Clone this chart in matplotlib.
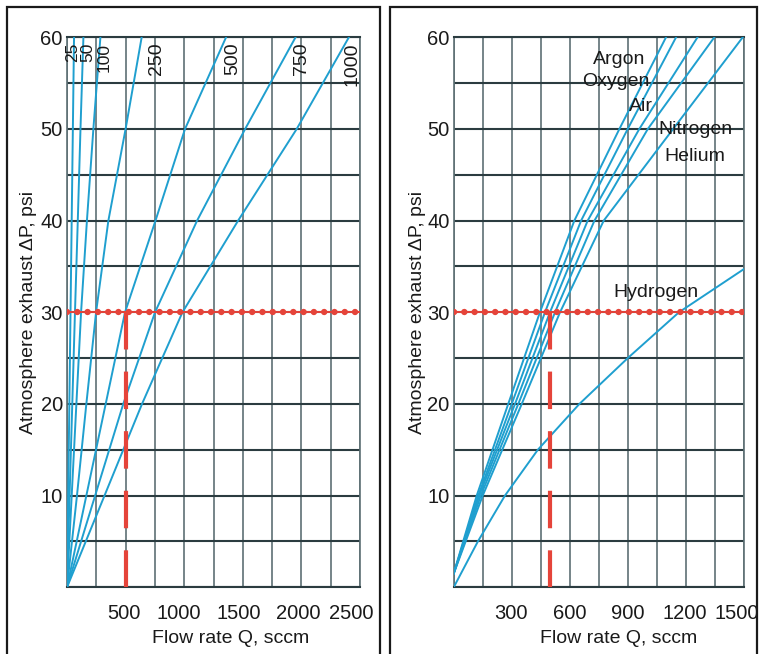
import numpy as np
import matplotlib
matplotlib.use("Agg")
import matplotlib.pyplot as plt
from matplotlib.patches import Rectangle
from matplotlib.ticker import MultipleLocator
from matplotlib.transforms import ScaledTranslation

plt.rcParams['font.family'] = ['Liberation Sans', 'DejaVu Sans']

# pressure levels (psi) at which curves were read
psi_levels = [0, 10, 20, 30, 40, 50, 60]

# left chart: flow (sccm) at each pressure level, one curve per orifice rating
orifice_names = ["25", "50", "100", "250", "500", "750", "1000"]
q25 = [0, 10, 20, 30, 40, 50, 60]
q50 = [0, 22, 45, 68, 92, 115, 140]
q100 = [0, 40, 80, 120, 170, 225, 285]
q250 = [0, 85, 165, 248, 353, 500, 637]
q500 = [0, 165, 330, 495, 755, 1007, 1357]
q750 = [0, 240, 480, 751, 1110, 1520, 1950]
q1000 = [0, 320, 640, 985, 1460, 1960, 2405]
orifice_flows = [q25, q50, q100, q250, q500, q750, q1000]

# right chart: gases, flow (sccm) vs pressure
gas_psi = [1.5, 10, 20, 30, 40, 50, 60]
argon = [0, 119, 282, 446, 624, 857, 1098]
oxygen = [0, 127, 300, 472, 659, 900, 1150]
air = [0, 132, 317, 498, 693, 960, 1261]
nitrogen = [0, 140, 334, 524, 728, 1004, 1348]
helium = [0, 150, 352, 550, 776, 1135, 1495]
hydro_psi = [0, 5, 10, 15, 20, 25, 30, 34.7]
hydrogen = [0, 125, 265, 435, 650, 900, 1165, 1500]

ref_flow = 500
ref_psi = 30

BLUE = '#1f9fcf'
RED = '#e5443a'
HGRID = '#2b3c40'
VGRID = '#5d7074'
TXT = '#1a1a1a'

fig = plt.figure(figsize=(7.62, 6.54), dpi=100)
W, H = 762, 654

def px_axes(x0, x1, y0, y1):
    return fig.add_axes([x0 / W, 1 - y1 / H, (x1 - x0) / W, (y1 - y0) / H])

axL = px_axes(67, 360, 37.3, 587.3)
axR = px_axes(453.7, 743.7, 37.3, 587.3)

def style(ax, xmax, xmajor, xminor, shifts):
    ax.set_xlim(0, xmax)
    ax.set_ylim(0, 60)
    ax.xaxis.set_minor_locator(MultipleLocator(xminor))
    ax.yaxis.set_minor_locator(MultipleLocator(5))
    ax.set_xticks(np.arange(xmajor, xmax + 1, xmajor))
    ax.set_yticks([10, 20, 30, 40, 50, 60])
    ax.grid(True, which='both', axis='x', color=VGRID, lw=1.2, zorder=0)
    ax.grid(True, which='both', axis='y', color=HGRID, lw=1.5, zorder=0)
    ax.set_axisbelow(True)
    for s in ['left', 'right']:
        ax.spines[s].set_color(VGRID)
        ax.spines[s].set_linewidth(1.2)
    for s in ['top', 'bottom']:
        ax.spines[s].set_color(HGRID)
        ax.spines[s].set_linewidth(1.5)
    ax.tick_params(which='both', length=0, labelsize=14.5, colors=TXT)
    ax.tick_params(axis='x', pad=12)
    ax.tick_params(axis='y', pad=3)
    for lab, dx in zip(ax.get_xticklabels(), shifts):
        lab.set_transform(lab.get_transform() +
                          ScaledTranslation(dx / 100, 0, fig.dpi_scale_trans))
    ax.set_xlabel("Flow rate Q, sccm", fontsize=14, color=TXT)
    ax.set_ylabel("Atmosphere exhaust \u0394P, psi", fontsize=14, color=TXT)

def ref_lines(ax):
    ax.axhline(ref_psi, color=RED, lw=1.4, zorder=4)
    ax.axhline(ref_psi, color=RED, lw=4.6, ls=(0, (0.01, 1.6)),
               dash_capstyle='round', zorder=4)
    ax.plot([ref_flow, ref_flow], [ref_psi, 0], color=RED, lw=3.0,
            ls=(0, (9, 5.3)), zorder=4)

# left chart
style(axL, 2500, 500, 250, [-2, -5, -4, -3, -9])
for name, q in zip(orifice_names, orifice_flows):
    axL.plot(q, psi_levels, color=BLUE, lw=1.4, zorder=3)
ref_lines(axL)
lab_x = [50, 175, 315, 760, 1416, 2003, 2432]
lab_fs = [12.5, 12.5, 12.5, 14, 14, 14, 14]
for name, x, fs in zip(orifice_names, lab_x, lab_fs):
    axL.text(x, 59.4, name, rotation=90, ha='center', va='top',
             fontsize=fs, color=TXT, zorder=5)
axL.xaxis.set_label_coords(0.56, -0.078)
axL.yaxis.set_label_coords(-0.102, 0.5)

# right chart
style(axR, 1500, 300, 150, [-1, 0, 0, -1, -7])
for q in [argon, oxygen, air, nitrogen, helium]:
    axR.plot(q, gas_psi, color=BLUE, lw=1.4, zorder=3)
axR.plot(hydrogen, hydro_psi, color=BLUE, lw=1.4, zorder=3)
ref_lines(axR)
gas_labels = [("Argon", 855, 57.6), ("Oxygen", 840, 55.2), ("Air", 969, 52.5),
              ("Nitrogen", 1248, 49.9), ("Helium", 1246, 47.0), ("Hydrogen", 1047, 32.2)]
for name, x, y in gas_labels:
    axR.text(x, y, name, ha='center', va='center', fontsize=14,
             color=TXT, zorder=5)
axR.xaxis.set_label_coords(0.567, -0.078)
axR.yaxis.set_label_coords(-0.096, 0.5)

# panel frames
for x0, x1 in [(7, 380), (390, 757)]:
    fig.patches.append(Rectangle((x0 / W, -0.1), (x1 - x0) / W, 1.1 - 7 / H,
                                 transform=fig.transFigure, fill=False,
                                 ec='#1a1a1a', lw=1.6))

fig.savefig("out.png", dpi=100)
